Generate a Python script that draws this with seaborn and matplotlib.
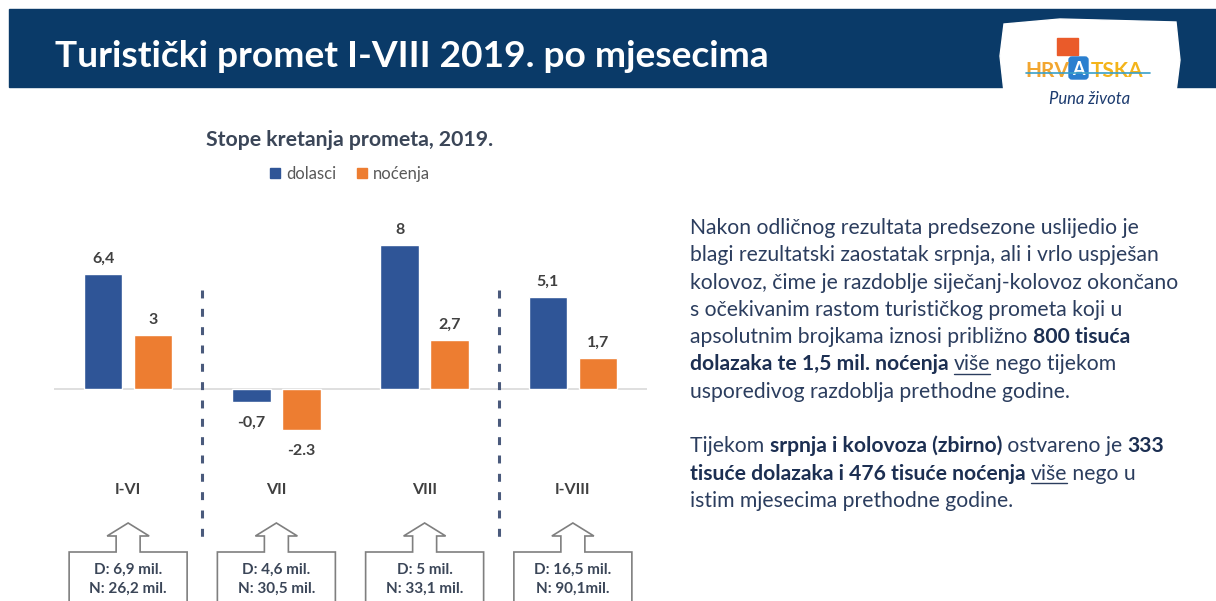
import numpy as np
import pandas as pd
import matplotlib
matplotlib.use("Agg")
import matplotlib.pyplot as plt
import seaborn as sns
from matplotlib.patches import Rectangle, Polygon, Patch, FancyBboxPatch
from matplotlib.transforms import blended_transform_factory

# ---------------- data ----------------
periods = ["I-VI", "VII", "VIII", "I-VIII"]
series_names = ["dolasci", "noćenja"]
dolasci = [6.4, -0.7, 8.0, 5.1]
nocenja = [3.0, -2.3, 2.7, 1.7]
dolasci_labels = ["6,4", "-0,7", "8", "5,1"]
nocenja_labels = ["3", "-2.3", "2,7", "1,7"]
totals_d = ["D: 6,9 mil.", "D: 4,6 mil.", "D: 5 mil.", "D: 16,5 mil."]
totals_n = ["N: 26,2 mil.", "N: 30,5 mil.", "N: 33,1 mil.", "N: 90,1mil."]

title = "Turistički promet I-VIII 2019. po mjesecima"
chart_title = "Stope kretanja prometa, 2019."

paragraph = [
    [("Nakon odličnog rezultata predsezone uslijedio je", "n")],
    [("blagi rezultatski zaostatak srpnja, ali i vrlo uspješan", "n")],
    [("kolovoz, čime je razdoblje siječanj-kolovoz okončano", "n")],
    [("s očekivanim rastom turističkog prometa koji u", "n")],
    [("apsolutnim brojkama iznosi približno ", "n"), ("800 tisuća", "b")],
    [("dolazaka te 1,5 mil. noćenja ", "b"), ("više", "u"), (" nego tijekom", "n")],
    [("usporedivog razdoblja prethodne godine.", "n")],
    None,
    [("Tijekom ", "n"), ("srpnja i kolovoza (zbirno)", "b"), (" ostvareno je ", "n"), ("333", "b")],
    [("tisuće dolazaka i 476 tisuće noćenja ", "b"), ("više", "u"), (" nego u", "n")],
    [("istim mjesecima prethodne godine.", "n")],
]

# ---------------- style ----------------
BLUE = "#2f5597"
ORANGE = "#ed7d31"
NAVY = "#0a3a68"
LABEL = "#404040"
TEXT = "#2b3d5e"
TEXT_B = "#1c2f52"

sns.set_theme(style="white")
FONT = ["Lato", "DejaVu Sans"]
plt.rcParams["font.family"] = FONT

W, H = 1216, 601
fig = plt.figure(figsize=(W / 100, H / 100), dpi=100)
fig.patch.set_facecolor("white")

overlay = fig.add_axes([0, 0, 1, 1])
overlay.set_xlim(0, W)
overlay.set_ylim(H, 0)
overlay.axis("off")
renderer = fig.canvas.get_renderer()


def text_width(s, size, weight="normal"):
    t = overlay.text(0, 0, s, fontsize=size, fontweight=weight)
    w = t.get_window_extent(renderer).width
    t.remove()
    return w


def fit_size(s, target, weight="normal", base=12):
    return base * target / text_width(s, base, weight)


# ---------------- header ----------------
overlay.add_patch(Rectangle((9, 9), W - 9, 78, color=NAVY, zorder=1))
tsize = fit_size(title, 715, "bold", 20)
overlay.text(55, 67, title, color="white", fontsize=tsize, fontweight="bold",
             va="baseline", ha="left", zorder=3)

# logo
overlay.add_patch(Polygon([(1004, 24), (1060, 19), (1176, 22), (1180, 60), (1176, 92),
                           (1120, 96), (1004, 92), (1000, 56)],
                          closed=True, color="white", zorder=2))
overlay.add_patch(Rectangle((1057, 38), 21, 17, color="#ea5b2a", zorder=3))
overlay.text(1047, 77, "HRV", color="#f2a630", fontsize=15, fontweight="bold",
             ha="center", va="baseline", zorder=4)
overlay.add_patch(FancyBboxPatch((1070, 58), 17, 20, boxstyle="round,pad=1,rounding_size=3",
                                 color="#2a7fcf", zorder=3))
overlay.text(1078.5, 75, "A", color="white", fontsize=13, fontweight="bold",
             ha="center", va="baseline", zorder=4)
overlay.text(1117, 77, "TSKA", color="#f4b41a", fontsize=15, fontweight="bold",
             ha="center", va="baseline", zorder=4)
overlay.plot([1026, 1150], [73, 73], color="#3a9fc8", lw=1.2, zorder=5)
overlay.text(1090, 104, "Puna života", color="#1b3a6e", fontsize=12, fontstyle="italic",
             ha="center", va="baseline", zorder=4)

# ---------------- chart ----------------
ZERO_PX, PX_PER_UNIT = 389, 18.0
AX_TOP, AX_BOT, AX_L, AX_R = 200, 480, 54, 647
ax = fig.add_axes([AX_L / W, (H - AX_BOT) / H, (AX_R - AX_L) / W, (AX_BOT - AX_TOP) / H])
ax.patch.set_alpha(0)

df = pd.DataFrame({
    "period": periods * 2,
    "series": [series_names[0]] * len(periods) + [series_names[1]] * len(periods),
    "value": dolasci + nocenja,
})
sns.barplot(data=df, x="period", y="value", hue="series", order=periods,
            hue_order=series_names, palette=[BLUE, ORANGE], saturation=1,
            width=0.675, gap=0.23, errorbar=None, legend=False, ax=ax, zorder=3)

ax.set_xlim(-0.5, len(periods) - 0.5)
ax.set_ylim(-(AX_BOT - ZERO_PX) / PX_PER_UNIT, (ZERO_PX - AX_TOP) / PX_PER_UNIT)
ax.axhline(0, color="#d9d9d9", lw=1.2, zorder=2)
ax.set_xlabel("")
ax.set_ylabel("")
ax.set_xticks([])
ax.set_yticks([])
for s in ax.spines.values():
    s.set_visible(False)

for cont, labs, vals in zip(ax.containers, [dolasci_labels, nocenja_labels], [dolasci, nocenja]):
    pos = [l if v >= 0 else "" for l, v in zip(labs, vals)]
    neg = [l if v < 0 else "" for l, v in zip(labs, vals)]
    ax.bar_label(cont, labels=pos, padding=6, fontsize=11.5, fontweight="bold", color=LABEL)
    ax.bar_label(cont, labels=neg, padding=10, fontsize=11.5, fontweight="bold", color=LABEL)

blend = blended_transform_factory(ax.transData, overlay.transData)

# chart title and legend
csize = fit_size(chart_title, 286, "bold", 12)
overlay.text(350, 140, chart_title, fontsize=csize, fontweight="bold", color="#3b4658",
             ha="center", va="center")
handles = [Patch(color=BLUE), Patch(color=ORANGE)]
fig.legend(handles, series_names, loc="center", bbox_to_anchor=(350 / W, 1 - 174 / H),
           ncol=2, frameon=False, handlelength=0.6, handleheight=0.6, handletextpad=0.4,
           columnspacing=1.2, fontsize=12, labelcolor="#595959")

# dashed separators
for xsep in [0.5, 2.5]:
    ax.plot([xsep, xsep], [290, 545], transform=blend, color="#4a5a7c", lw=2.2,
            linestyle=(0, (2.6, 3.4)), clip_on=False, zorder=2)

# category labels and callouts
for i, p in enumerate(periods):
    ax.text(i, 490, p, transform=blend, ha="center", va="center", fontsize=11.5,
            fontweight="bold", color=LABEL, clip_on=False)
    cx = blend.transform((i, 0))[0]
    shape = [(-59, 615), (-59, 552), (-12, 552), (-12, 536), (-21, 536), (0, 523),
             (21, 536), (12, 536), (12, 552), (59, 552), (59, 615)]
    overlay.add_patch(Polygon([(cx + dx, y) for dx, y in shape], closed=True,
                              facecolor="white", edgecolor="#7f7f7f", lw=1.2, zorder=3))
    overlay.text(cx, 570, totals_d[i], ha="center", va="center", fontsize=11,
                 fontweight="bold", color="#3b4658", zorder=4)
    overlay.text(cx, 589, totals_n[i], ha="center", va="center", fontsize=11,
                 fontweight="bold", color="#3b4658", zorder=4)

# ---------------- paragraph ----------------
psize = fit_size(paragraph[2][0][0], 487, "normal", 12)
x0, y0, dy = 690, 234, 27.3
for li, line in enumerate(paragraph):
    if line is None:
        continue
    y = y0 + dy * li
    x = x0
    for seg, st in line:
        bold = "b" in st
        t = overlay.text(x, y, seg, fontsize=psize, fontweight="bold" if bold else "normal",
                         color=TEXT_B if bold else TEXT, ha="left", va="baseline")
        bb = t.get_window_extent(renderer)
        if "u" in st:
            overlay.plot([x, x + bb.width], [y + 3, y + 3], color=TEXT, lw=1.0)
        x += bb.width

fig.savefig("out.png", dpi=100, facecolor="white")
